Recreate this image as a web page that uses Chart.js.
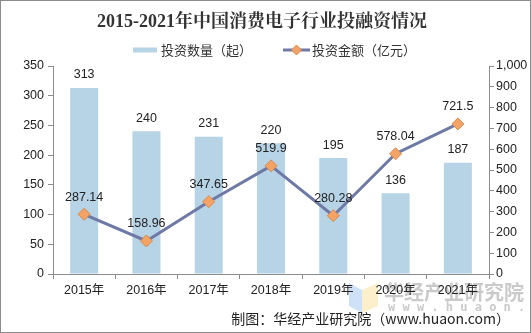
<!DOCTYPE html>
<html>
<head>
<meta charset="utf-8">
<script src="https://cdn.jsdelivr.net/npm/chart.js@4.4.1/dist/chart.umd.min.js"></script>
<style>
  html, body { margin: 0; padding: 0; background: #fff; }
  #wrap { position: relative; width: 531px; height: 333px; box-sizing: border-box; border: 1px solid #8c8c8c; }
  canvas { position: absolute; left: -1px; top: -1px; }
</style>
</head>
<body>
<div id="wrap"><canvas id="chart" width="531" height="333"></canvas></div>
<script>
const years = ["2015年", "2016年", "2017年", "2018年", "2019年", "2020年", "2021年"];
const dealCounts = [313, 240, 231, 220, 195, 136, 187];
const dealAmounts = [287.14, 158.96, 347.65, 519.9, 280.28, 578.04, 721.5];
const leftTicks = [0, 50, 100, 150, 200, 250, 300, 350];
const rightTicks = [0, 100, 200, 300, 400, 500, 600, 700, 800, 900, 1000];

const CJK = '"Noto Sans CJK SC", "Liberation Sans", sans-serif';
const LABEL_FONT = '12.5px "Liberation Sans", "Noto Sans CJK SC", sans-serif';

// title, legend, footer, watermark and value labels
const decorations = {
    id: "decorations",
    beforeDraw(chart) {
        const c = chart.ctx;
        c.save();
        // watermark
        c.globalAlpha = 0.55;
        c.fillStyle = "#a8c8f0";
        c.beginPath();
        c.moveTo(349, 283); c.lineTo(362, 290); c.lineTo(362, 313); c.lineTo(349, 306);
        c.closePath(); c.fill();
        c.fillStyle = "#f8e3a0";
        c.beginPath();
        c.moveTo(362, 290); c.lineTo(378, 283); c.lineTo(378, 306); c.lineTo(362, 313);
        c.closePath(); c.fill();
        c.globalAlpha = 0.45;
        c.fillStyle = "#8a8a8a";
        c.font = 'bold 20px ' + CJK;
        c.textBaseline = "middle";
        c.textAlign = "left";
        c.fillText("华经产业研究院", 384, 292);
        c.font = 'bold 12px "DejaVu Sans Mono", monospace';
        c.fillText("w w w . h u a o n . c o m", 388, 308);
        c.restore();
    },
    afterDatasetsDraw(chart) {
        const c = chart.ctx;
        c.save();
        c.fillStyle = "#222";
        c.font = LABEL_FONT;
        c.textAlign = "center";
        c.textBaseline = "middle";
        chart.getDatasetMeta(0).data.forEach((bar, i) => {
            c.fillText(String(dealCounts[i]), bar.x, bar.y - 13);
        });
        chart.getDatasetMeta(1).data.forEach((pt, i) => {
            c.fillText(String(dealAmounts[i]), pt.x, pt.y - 17);
        });
        c.restore();
    },
    afterDraw(chart) {
        const c = chart.ctx;
        c.save();
        // title
        c.fillStyle = "#333";
        c.textAlign = "center";
        c.textBaseline = "middle";
        c.font = 'bold 18px "Liberation Serif", "Noto Serif CJK SC", "Noto Sans CJK SC", serif';
        c.fillText("2015-2021年中国消费电子行业投融资情况", 262, 22);

        // legend
        c.font = '13px ' + CJK;
        c.textAlign = "left";
        c.fillStyle = "#b7d3e6";
        c.fillRect(133, 47.5, 24, 5);
        c.fillStyle = "#333";
        c.fillText("投资数量（起）", 161, 50);
        c.strokeStyle = "#6e79a6";
        c.lineWidth = 3;
        c.beginPath(); c.moveTo(283, 50); c.lineTo(310, 50); c.stroke();
        drawDiamond(c, 296.5, 50, 5);
        c.fillStyle = "#333";
        c.fillText("投资金额（亿元）", 312, 50);

        // footer
        c.font = '14px ' + CJK;
        c.textAlign = "right";
        c.fillStyle = "#222";
        c.fillText("制图：华经产业研究院（www.huaon.com）", 510, 319);
        c.restore();
    }
};

function drawDiamond(c, x, y, r) {
    c.save();
    c.fillStyle = "#f2a365";
    c.strokeStyle = "#d98a4c";
    c.lineWidth = 1;
    c.beginPath();
    c.moveTo(x, y - r); c.lineTo(x + r, y); c.lineTo(x, y + r); c.lineTo(x - r, y);
    c.closePath(); c.fill(); c.stroke();
    c.restore();
}

const axisColor = "#8c8c8c";
const tickFont = { family: '"Liberation Sans", "Noto Sans CJK SC", sans-serif', size: 12.5 };

new Chart(document.getElementById("chart").getContext("2d"), {
    type: "bar",
    data: {
        labels: years,
        datasets: [{
            type: "bar",
            label: "投资数量（起）",
            data: dealCounts,
            yAxisID: "y",
            backgroundColor: "#b7d3e6",
            categoryPercentage: 1,
            barPercentage: 0.45,
            order: 2
        }, {
            type: "line",
            label: "投资金额（亿元）",
            data: dealAmounts,
            yAxisID: "y1",
            borderColor: "#6e79a6",
            borderWidth: 3,
            pointStyle: "rectRot",
            pointRadius: 6,
            pointBackgroundColor: "#f2a365",
            pointBorderColor: "#d98a4c",
            pointBorderWidth: 1,
            tension: 0,
            order: 1
        }]
    },
    options: {
        responsive: false,
        animation: false,
        layout: { padding: { top: 66, left: 0, right: 0, bottom: 0 } },
        plugins: {
            legend: { display: false },
            title: { display: false },
            tooltip: { enabled: false }
        },
        scales: {
            x: {
                offset: true,
                grid: { display: true, drawOnChartArea: false, drawTicks: true, tickLength: 5, color: axisColor, offset: true },
                border: { color: axisColor },
                ticks: { color: "#222", font: tickFont, padding: 4 },
                afterFit: s => { s.height = 59; }
            },
            y: {
                position: "left",
                min: 0,
                max: 350,
                afterBuildTicks: s => { s.ticks = leftTicks.map(v => ({ value: v })); },
                grid: { display: true, drawOnChartArea: false, drawTicks: true, tickLength: 5, color: axisColor },
                border: { color: axisColor },
                ticks: { color: "#222", font: tickFont, padding: 4 },
                afterFit: s => { s.width = 53; }
            },
            y1: {
                position: "right",
                min: 0,
                max: 1000,
                afterBuildTicks: s => { s.ticks = rightTicks.map(v => ({ value: v })); },
                grid: { display: true, drawOnChartArea: false, drawTicks: true, tickLength: 5, color: axisColor },
                border: { color: axisColor },
                ticks: { color: "#222", font: tickFont, padding: 2 },
                afterFit: s => { s.width = 42; }
            }
        }
    },
    plugins: [decorations]
});
</script>
</body>
</html>
